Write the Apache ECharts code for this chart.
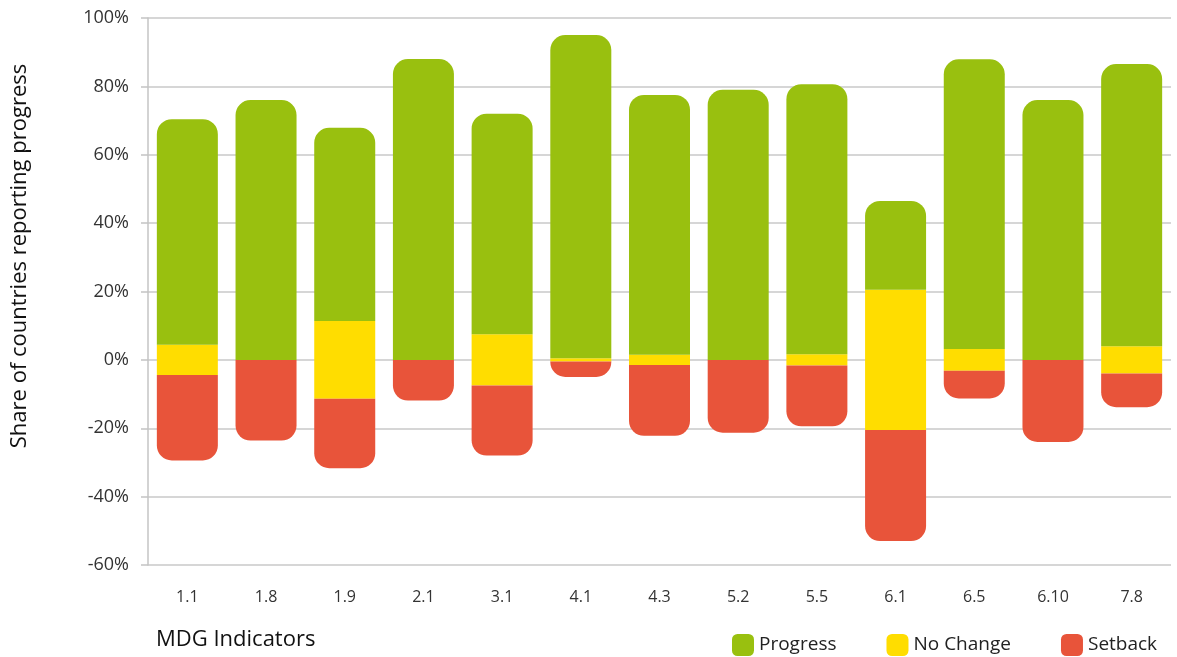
<!DOCTYPE html>
<html>
<head>
<meta charset="utf-8">
<script src="https://cdn.jsdelivr.net/npm/echarts@6/dist/echarts.min.js"></script>
<style>
  html, body { margin: 0; padding: 0; background: #fff; }
  #chart { width: 1177px; height: 657px; }
</style>
</head>
<body>
<div id="chart"></div>
<script>
const categories = ['1.1', '1.8', '1.9', '2.1', '3.1', '4.1', '4.3', '5.2', '5.5', '6.1', '6.5', '6.10', '7.8'];
const progress   = [66, 76, 56.5, 88, 64.5, 94.5, 76, 79, 79, 26, 84.7, 76, 82.6];
const noChange   = [8.8, 0, 22.8, 0, 15, 1, 3, 0, 3.3, 41, 6.4, 0, 7.9];
const setback    = [25, 23.6, 20.3, 11.9, 20.5, 4.5, 20.7, 21.3, 17.8, 32.5, 8.1, 24, 9.9];
const yTicks = { min: -60, max: 100, interval: 20 };

const GREEN = '#99c00f', YELLOW = '#ffdd00', RED = '#e8543a';
const FONT = 'Open Sans';

const ncUp = noChange.map(v => v / 2);
const ncDown = noChange.map(v => -v / 2);
const setbackNeg = setback.map(v => -v);

const chart = echarts.init(document.getElementById('chart'), null, { renderer: 'canvas' });
chart.setOption({
  animation: false,
  grid: { left: 148, right: 6, top: 18, bottom: 92, containLabel: false },
  legend: {
    data: ['Progress', 'No Change', 'Setback'],
    left: 727, top: 629,
    icon: 'roundRect',
    itemWidth: 22, itemHeight: 22,
    itemGap: 50,
    itemTextGap: 7,
    textStyle: { fontFamily: FONT, fontSize: 19, color: '#222' }
  },
  xAxis: {
    type: 'category',
    data: categories,
    axisLine: { show: false },
    axisTick: { show: false },
    axisLabel: { fontFamily: FONT, fontSize: 16, color: '#333', margin: 24 }
  },
  yAxis: {
    type: 'value',
    min: yTicks.min, max: yTicks.max, interval: yTicks.interval,
    axisLine: { show: true, lineStyle: { color: '#c4c4c4', width: 1.5 } },
    axisTick: { show: true, length: 7, lineStyle: { color: '#c4c4c4', width: 1.5 } },
    splitLine: { lineStyle: { color: '#c8c8c8', width: 1.5 } },
    axisLabel: { fontFamily: FONT, fontSize: 18, color: '#333', margin: 19, formatter: '{value}%' }
  },
  graphic: [
    {
      type: 'text', x: 20, y: 256, rotation: Math.PI / 2,
      style: { text: 'Share of countries reporting progress', fontFamily: FONT, fontSize: 22,
               fill: '#111', align: 'center', verticalAlign: 'middle' }
    },
    {
      type: 'text', x: 156, y: 640,
      style: { text: 'MDG Indicators', fontFamily: FONT, fontSize: 22,
               fill: '#111', align: 'left', verticalAlign: 'middle' }
    }
  ],
  series: [
    { name: 'No Change', type: 'bar', stack: 'total', data: ncUp, barWidth: 61,
      itemStyle: { color: YELLOW } },
    { name: 'Progress', type: 'bar', stack: 'total', data: progress, barWidth: 61,
      itemStyle: { color: GREEN, borderRadius: [15, 15, 0, 0] } },
    { name: 'No Change', type: 'bar', stack: 'total', data: ncDown, barWidth: 61,
      itemStyle: { color: YELLOW } },
    { name: 'Setback', type: 'bar', stack: 'total', data: setbackNeg, barWidth: 61,
      itemStyle: { color: RED, borderRadius: [0, 0, 15, 15] } }
  ]
});
</script>
</body>
</html>
